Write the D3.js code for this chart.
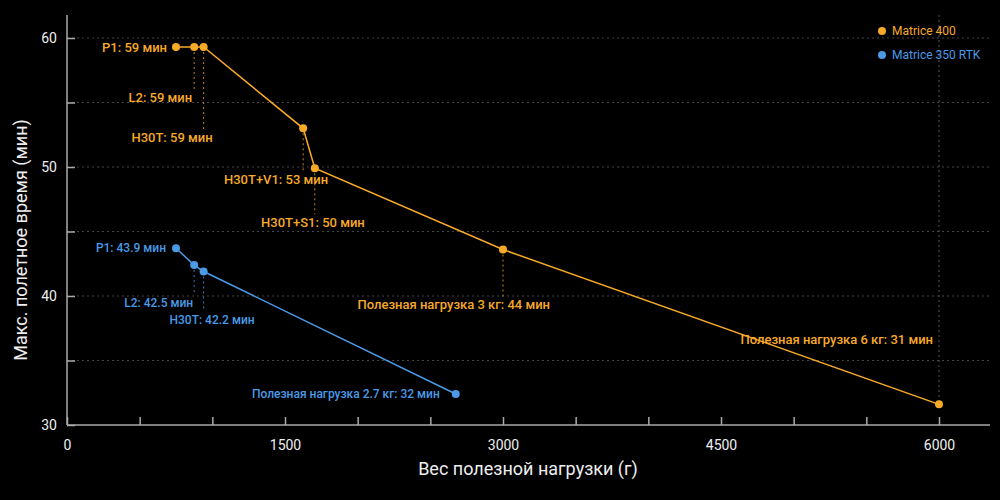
<!DOCTYPE html><html><head><meta charset="utf-8"><script src="https://cdn.jsdelivr.net/npm/d3@7"></script>
<style>body{margin:0;background:#000}text{font-family:Roboto,"Noto Sans",sans-serif}</style></head><body><svg id="c" width="1000" height="500"></svg>
<script>
const seriesNames=["Matrice 400","Matrice 350 RTK"];
const m400X=[750,875,940,1625,1705,3000,6000];
const m400Y=[59.3,59.3,59.3,53,49.9,43.6,31.6];
const m400Labels=["P1: 59 мин","L2: 59 мин","H30T: 59 мин","H30T+V1: 53 мин","H30T+S1: 50 мин","Полезная нагрузка 3 кг: 44 мин","Полезная нагрузка 6 кг: 31 мин"];
const m350X=[750,875,940,2675];
const m350Y=[43.7,42.4,41.9,32.4];
const m350Labels=["P1: 43.9 мин","L2: 42.5 мин","H30T: 42.2 мин","Полезная нагрузка 2.7 кг: 32 мин"];
const xTicks=[0,1500,3000,4500,6000];
const yTicks=[30,40,50,60];
const colors=["#f7a928","#4a9ae6"];
const m400Pos=[[-9,0,0],[-2,50,1],[9,90,1],[25,51,1],[50,54,1],[47,55,1],[-6,-65,2]];
const m350Pos=[[-10,0,0],[-1,38,1],[51,48,1],[-16,0,0]];
const svg=d3.select("#c");
const x=d3.scaleLinear().domain([0,6000]).range([67,939]);
const y=d3.scaleLinear().domain([30,60]).range([425,38]);
svg.append("g").selectAll("line").data(d3.range(35,61,5)).join("line")
 .attr("x1",67).attr("x2",990).attr("y1",d=>y(d)).attr("y2",d=>y(d))
 .attr("stroke","#444").attr("stroke-dasharray","2,3");
const ax=svg.append("g").attr("transform","translate(0,425)").call(d3.axisBottom(x).tickValues(d3.range(0,6400,500)).tickFormat(d=>xTicks.includes(d)?d:"").tickSize(-8).tickPadding(8));
ax.select(".domain").attr("d","M67,0H990");
const ay=svg.append("g").attr("transform","translate(67,0)").call(d3.axisLeft(y).tickValues(d3.range(30,61,5)).tickFormat(d=>yTicks.includes(d)?d:"").tickSize(-8).tickPadding(10));
ay.select(".domain").attr("d","M0,15V425");
svg.selectAll(".domain,.tick line").attr("stroke","#aaa").attr("stroke-width",1.5);
svg.selectAll(".tick text").attr("fill","#eee").attr("font-size",14).attr("font-family","Roboto");
ax.selectAll(".tick text").attr("dy","1.2em");
svg.append("text").attr("x",528).attr("y",475).attr("text-anchor","middle").attr("fill","#eee").attr("font-size",18).text("Вес полезной нагрузки (г)");
svg.append("text").attr("transform","translate(27,240) rotate(-90)").attr("text-anchor","middle").attr("fill","#eee").attr("font-size",18).text("Макс. полетное время (мин)");
function draw(xs,ys,labels,pos,col){
 const pts=xs.map((v,i)=>[x(v),y(ys[i])]);
 const g=svg.append("g");
 pos.forEach((p,i)=>{
  const [px,py]=pts[i];
  if(p[2]===1) g.append("line").attr("x1",px).attr("x2",px).attr("y1",py).attr("y2",py+p[1]-8).attr("stroke",col).attr("stroke-dasharray","2,3").attr("opacity",.8);
  if(p[2]===2) g.append("line").attr("x1",px).attr("x2",px).attr("y1",15).attr("y2",py).attr("stroke","#555").attr("stroke-dasharray","2,3");
 });
 g.append("path").attr("d",d3.line()(pts)).attr("fill","none").attr("stroke",col).attr("stroke-width",1.5);
 g.selectAll("circle").data(pts).join("circle").attr("cx",d=>d[0]).attr("cy",d=>d[1]).attr("r",4).attr("fill",col);
 g.selectAll("text").data(labels).join("text").attr("x",(d,i)=>pts[i][0]+pos[i][0]).attr("y",(d,i)=>pts[i][1]+pos[i][1]).attr("dy","0.35em")
  .attr("text-anchor","end").attr("fill",col).attr("font-size",col===colors[0]?13:12).attr("font-weight",500).text(d=>d);
}
draw(m400X,m400Y,m400Labels,m400Pos,colors[0]);
draw(m350X,m350Y,m350Labels,m350Pos,colors[1]);
seriesNames.forEach((n,i)=>{
 svg.append("circle").attr("cx",882).attr("cy",31+24*i).attr("r",4).attr("fill",colors[i]);
 svg.append("text").attr("x",892).attr("y",31+24*i).attr("dy","0.35em").attr("fill",colors[i]).attr("font-size",12).text(n);
});
</script></body></html>
